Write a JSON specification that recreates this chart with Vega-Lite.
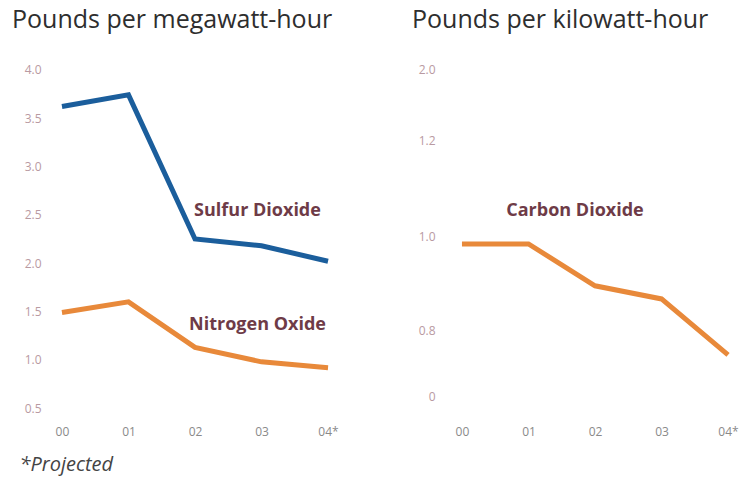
{
  "$schema": "https://vega.github.io/schema/vega-lite/v6.json",
  "padding": {"left": 12, "top": 8, "right": 5, "bottom": 5},
  "background": "white",
  "spacing": 72,
  "config": {
    "view": {"stroke": null},
    "font": "Open Sans",
    "axis": {"grid": false, "domain": false, "ticks": false, "labelFont": "Open Sans", "labelFontSize": 12},
    "title": {"font": "Open Sans", "fontSize": 25, "fontWeight": "normal", "color": "#2e2e2e", "anchor": "start", "frame": "group"}
  },
  "datasets": {
    "left": [
      {"year": "00", "series": "Sulfur Dioxide", "value": 3.62},
      {"year": "01", "series": "Sulfur Dioxide", "value": 3.74},
      {"year": "02", "series": "Sulfur Dioxide", "value": 2.25},
      {"year": "03", "series": "Sulfur Dioxide", "value": 2.18},
      {"year": "04*", "series": "Sulfur Dioxide", "value": 2.02},
      {"year": "00", "series": "Nitrogen Oxide", "value": 1.49},
      {"year": "01", "series": "Nitrogen Oxide", "value": 1.6},
      {"year": "02", "series": "Nitrogen Oxide", "value": 1.13},
      {"year": "03", "series": "Nitrogen Oxide", "value": 0.98},
      {"year": "04*", "series": "Nitrogen Oxide", "value": 0.92}
    ],
    "leftLabels": [
      {"year": "03", "label": "Sulfur Dioxide", "value": 2.54},
      {"year": "03", "label": "Nitrogen Oxide", "value": 1.36}
    ],
    "right": [
      {"year": "00", "series": "Carbon Dioxide", "value": 0.985},
      {"year": "01", "series": "Carbon Dioxide", "value": 0.985},
      {"year": "02", "series": "Carbon Dioxide", "value": 0.896},
      {"year": "03", "series": "Carbon Dioxide", "value": 0.868},
      {"year": "04*", "series": "Carbon Dioxide", "value": 0.749}
    ],
    "rightLabels": [
      {"year": "02", "label": "Carbon Dioxide", "value": 1.055}
    ]
  },
  "hconcat": [
    {
      "width": 290,
      "height": 354,
      "title": {"text": "Pounds per megawatt-hour", "dx": -38, "offset": 29},
      "encoding": {
        "x": {
          "field": "year", "type": "ordinal", "sort": ["00", "01", "02", "03", "04*"],
          "scale": {"type": "point", "padding": 0.18},
          "axis": {
            "labelAngle": 0, "labelColor": "#8a8a8a", "labelPadding": 10,
            "title": "*Projected", "titleFont": "Open Sans", "titleFontStyle": "italic", "titleFontWeight": "normal",
            "titleFontSize": 20, "titleColor": "#444444", "titleAnchor": "start", "titleAlign": "left",
            "titleX": -31, "titleY": 54, "titleBaseline": "alphabetic"
          }
        },
        "y": {
          "field": "value", "type": "quantitative",
          "scale": {"domain": [0.42, 4.08], "nice": false, "zero": false},
          "axis": {"values": [0.5, 1.0, 1.5, 2.0, 2.5, 3.0, 3.5, 4.0], "format": ".1f", "labelColor": "#b99aa2", "labelPadding": 9, "title": null}
        }
      },
      "layer": [
        {
          "data": {"name": "left"},
          "mark": {"type": "line", "strokeWidth": 5, "strokeJoin": "miter"},
          "encoding": {
            "color": {"field": "series", "type": "nominal", "scale": {"domain": ["Sulfur Dioxide", "Nitrogen Oxide"], "range": ["#1b5e9c", "#e8893a"]}, "legend": null}
          }
        },
        {
          "data": {"name": "leftLabels"},
          "mark": {"type": "text", "font": "Open Sans", "fontWeight": "bold", "fontSize": 18, "color": "#6e3b47", "dx": -4},
          "encoding": {"text": {"field": "label"}}
        }
      ]
    },
    {
      "width": 290,
      "height": 354,
      "title": {"text": "Pounds per kilowatt-hour", "dx": -38, "offset": 29},
      "encoding": {
        "x": {
          "field": "year", "type": "ordinal", "sort": ["00", "01", "02", "03", "04*"],
          "scale": {"type": "point", "padding": 0.18},
          "axis": {"labelAngle": 0, "labelColor": "#8a8a8a", "labelPadding": 10, "title": null}
        },
        "y": {
          "field": "value", "type": "quantitative",
          "scale": {"domain": [0.619, 1.372], "nice": false, "zero": false},
          "axis": {
            "values": [0.66, 0.8, 1.0, 1.204, 1.355],
            "labelExpr": "datum.value > 1.3 ? '2.0' : (datum.value < 0.7 ? '0' : format(datum.value, '.1f'))",
            "labelColor": "#b99aa2", "labelPadding": 15, "title": null
          }
        }
      },
      "layer": [
        {
          "data": {"name": "right"},
          "mark": {"type": "line", "strokeWidth": 5, "color": "#e8893a", "strokeJoin": "miter"},
          "encoding": {}
        },
        {
          "data": {"name": "rightLabels"},
          "mark": {"type": "text", "font": "Open Sans", "fontWeight": "bold", "fontSize": 18, "color": "#6e3b47", "dx": -20},
          "encoding": {"text": {"field": "label"}}
        }
      ]
    }
  ]
}
